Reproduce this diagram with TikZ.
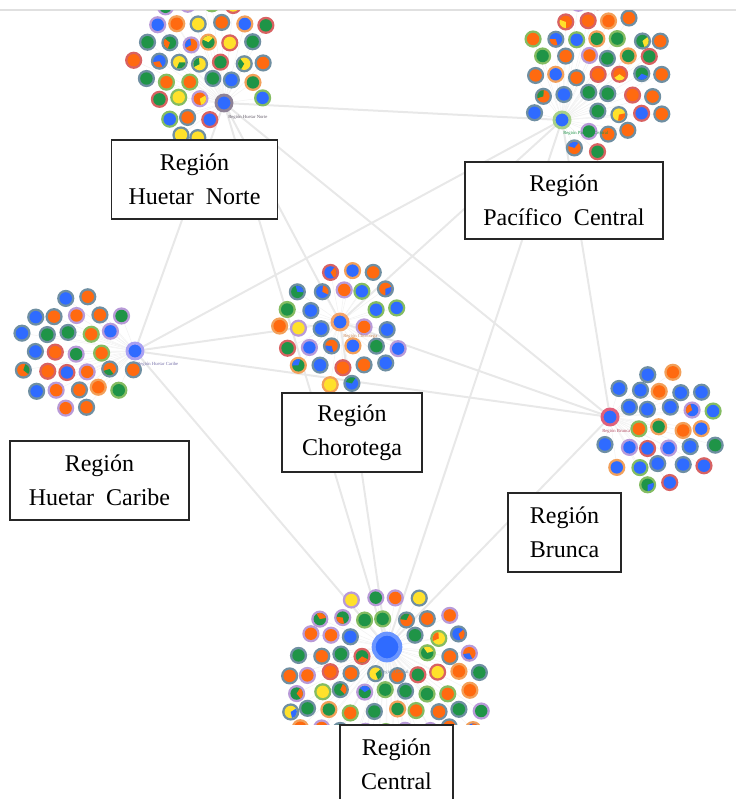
\documentclass[tikz,border=0pt]{standalone}
\usepackage{fontspec}
\setmainfont{Liberation Serif}
\definecolor{cblue}{HTML}{2F6BFF}
\definecolor{corange}{HTML}{FF6A10}
\definecolor{cgreen}{HTML}{1F9447}
\definecolor{cyellow}{HTML}{FFE12B}
\definecolor{cedge}{HTML}{E8E8E8}
\definecolor{cring}{HTML}{6F8FA2}
\definecolor{cringo}{HTML}{F2A05A}
\definecolor{cringp}{HTML}{B89AD8}
\definecolor{cringr}{HTML}{D86262}
\definecolor{cringg}{HTML}{84BC62}
\definecolor{chnorte}{HTML}{8E8296}
\definecolor{chpac}{HTML}{A6D088}
\definecolor{chcar}{HTML}{A9A0F2}
\definecolor{chcho}{HTML}{F4A46A}
\definecolor{chbru}{HTML}{E0607A}
\definecolor{chcen}{HTML}{6A95FF}
\pgfmathdeclarerandomlist{rings}{{cring}{cring}{cring}{cring}{cringo}{cringp}{cringr}{cringg}}
\pgfmathdeclarerandomlist{mixnorte}{{cblue}{corange}{cgreen}{cyellow}{cgreen}{cyellow}}
\pgfmathdeclarerandomlist{mixpac}{{corange}{corange}{cgreen}{cblue}{cyellow}}
\pgfmathdeclarerandomlist{mixcar}{{corange}{corange}{corange}{cblue}{cgreen}}
\pgfmathdeclarerandomlist{mixcho}{{cblue}{cblue}{corange}{corange}{cgreen}{cyellow}}
\pgfmathdeclarerandomlist{mixbru}{{cblue}{cblue}{cgreen}{corange}{cblue}}
\pgfmathdeclarerandomlist{mixcen}{{corange}{cgreen}{cblue}{cyellow}{corange}{cgreen}}
\tikzset{
  link/.style={draw=cedge, line width=1.5pt},
  spoke/.style={draw=black!5, line width=0.4pt},
  hub/.style={circle, fill=cblue, draw=#1, line width=2.2pt, minimum size=12pt, inner sep=0pt},
  region/.style={draw=black!85, fill=white, line width=1.1pt, align=center, inner sep=0pt,
    font=\fontsize{18}{25.5}\selectfont},
  tag/.style={font=\fontsize{3.5}{4}\selectfont, text=#1, inner sep=0pt, anchor=west},
}
\newif\ifspokes
% cx, cy, radius, seed, hub x, hub y, gap round hub, colour list
\newcommand{\cluster}[8]{%
  \pgfmathsetseed{#4}%
  \foreach \i in {-6,...,6}{%
    \foreach \j in {-6,...,6}{%
      \pgfmathsetmacro{\px}{#1+21.5*(\j+0.5*mod(abs(\i),2))+2.5*rand}%
      \pgfmathsetmacro{\py}{#2+18.6*\i+2.5*rand}%
      \pgfmathtruncatemacro{\keep}{and(veclen(\px-#1,\py-#2)<#3, veclen(\px-#5,\py-#6)>#7)}%
      \ifnum\keep=1
        \pgfmathrandomitem{\rgcol}{rings}%
        \pgfmathrandomitem{\incol}{#8}%
        \pgfmathrandomitem{\wgcol}{#8}%
        \pgfmathrandominteger{\haswedge}{0}{2}%
        \pgfmathsetmacro{\wa}{360*rnd}%
        \ifspokes
          \draw[spoke] (#5,#6) -- (\px,\py);
        \else
          \fill[\rgcol] (\px,\py) circle[radius=8.6];
          \fill[\incol] (\px,\py) circle[radius=6.2];
          \ifnum\haswedge=0
            \fill[\wgcol] (\px,\py) -- ++(\wa:6.2) arc[start angle=\wa, delta angle=110, radius=6.2] -- cycle;
          \fi
        \fi
      \fi
    }%
  }%
}
\newcommand{\allclusters}{%
  \begin{scope}
  \clip (0,11) rectangle (736,799);
  \cluster{200}{62}{76}{11}{224}{103}{18}{mixnorte}
  \cluster{598}{76}{76}{23}{562}{120}{18}{mixpac}
  \cluster{78}{352}{62}{37}{135}{351}{18}{mixcar}
  \cluster{342}{328}{64}{41}{340}{322}{18}{mixcho}
  \cluster{660}{428}{62}{53}{610}{417}{18}{mixbru}
  \end{scope}
  \begin{scope}
  \clip (0,11) rectangle (736,724);
  \cluster{385}{692}{102}{67}{387}{647}{26}{mixcen}
  \end{scope}
}

\begin{document}
\begin{tikzpicture}[x=0.75pt, y=-0.75pt]
  \useasboundingbox (0,0) rectangle (736,799);
  \draw[black!12, line width=0.8pt] (0,10) -- (736,10);
  % ---------- hub centres
  \coordinate (norte) at (224,103);
  \coordinate (pacifico) at (562,120);
  \coordinate (caribe) at (135,351);
  \coordinate (choro) at (340,322);
  \coordinate (brunca) at (610,417);
  \coordinate (central) at (387,647);
  % ---------- links
  \foreach \a/\b in {norte/pacifico, norte/caribe, norte/choro, norte/brunca, norte/central,
    pacifico/caribe, pacifico/choro, pacifico/brunca, pacifico/central,
    caribe/choro, caribe/brunca, caribe/central, choro/brunca, choro/central, brunca/central}
    \draw[link] (\a) -- (\b);
  % ---------- clusters: spokes first, then the dots
  \spokestrue
  \allclusters
  \spokesfalse
  \allclusters
  % ---------- hubs
  \node[hub=chnorte] (hnorte) at (norte) {};
  \node[hub=chpac] (hpacifico) at (pacifico) {};
  \node[hub=chcar] (hcaribe) at (caribe) {};
  \node[hub=chcho] (hchoro) at (choro) {};
  \node[hub=chbru] (hbrunca) at (brunca) {};
  \node[hub=chcen, minimum size=20pt, line width=3pt] (hcentral) at (central) {};
  % ---------- small tags
  \node[tag=chnorte!70!black] (tnorte) at (228,117) {Región Huetar Norte};
  \node[tag=cgreen] (tpac) at (563,133) {Región Pacífico Central};
  \node[tag=chcar!70!black] (tcar) at (137,364) {Región Huetar Caribe};
  \node[tag=chcho!80!black] (tcho) at (343,336) {Región Chorotega};
  \node[tag=chbru!80!black] (tbru) at (602,431) {Región Brunca};
  \node[tag=cring] (tcen) at (380,672) {Región Central};
  % ---------- region boxes
  \node[region, minimum width=124.5pt, minimum height=59.25pt] (bnorte) at (194.5,179.5) {Región\\Huetar~~Norte};
  \node[region, minimum width=148.5pt, minimum height=57.75pt] (bpac) at (564,200.5) {Región\\Pacífico~~Central};
  \node[region, minimum width=134.25pt, minimum height=59.25pt] (bcar) at (99.5,480.5) {Región\\Huetar~~Caribe};
  \node[region, minimum width=105pt, minimum height=59.25pt] (bcho) at (352,432.5) {Región\\Chorotega};
  \node[region, minimum width=84.75pt, minimum height=59.25pt] (bbru) at (564.5,532.5) {Región\\Brunca};
  \node[region, minimum width=84.75pt, minimum height=59.25pt] (bcen) at (396.5,764.5) {Región\\Central};
\end{tikzpicture}
\end{document}
